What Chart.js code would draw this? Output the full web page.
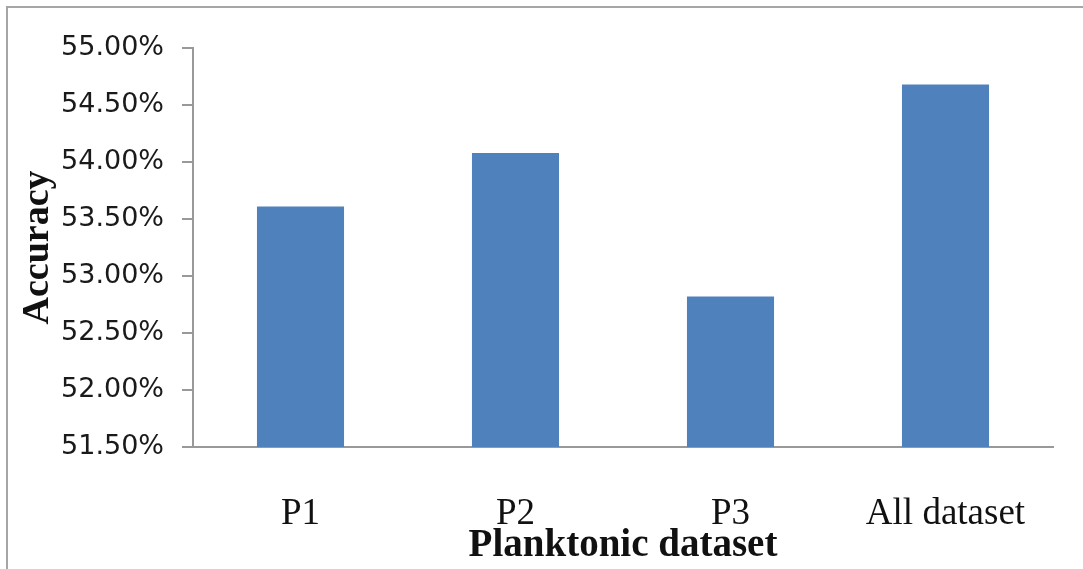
<!DOCTYPE html>
<html>
<head>
<meta charset="utf-8">
<script src="https://cdn.jsdelivr.net/npm/chart.js@4"></script>
<style>
  body { margin: 0; background: #fff; }
  #wrap { position: relative; width: 1083px; height: 569px; }
  #frame {
    position: absolute; left: 6px; top: 6px; width: 1100px; height: 600px;
    border-left: 2px solid #a6a6a6; border-top: 2px solid #a6a6a6;
    pointer-events: none;
  }
</style>
</head>
<body>
<div id="wrap">
  <canvas id="chart" width="1083" height="569"></canvas>
  <div id="frame"></div>
</div>
<script>
// categories and accuracy values (percent)
const categories = ['P1', 'P2', 'P3', 'All dataset'];
const accuracy = [53.61, 54.08, 52.82, 54.68];

// axis range
const yMin = 51.5;
const yMax = 55.0;
const yStep = 0.5;

const ctx = document.getElementById('chart');

let accuracyChart = new Chart(ctx, {
    type: 'bar',
    data: {
        labels: categories,
        datasets: [{
            data: accuracy,
            backgroundColor: '#4f81bd',
            borderWidth: 0,
            barPercentage: 0.405,
            categoryPercentage: 1
        }]
    },
    options: {
        responsive: false,
        animation: false,
        layout: { padding: { top: 48, right: 30, left: 0, bottom: 0 } },
        plugins: { legend: { display: false }, tooltip: { enabled: false } },
        scales: {
            x: {
                grid: { display: false },
                border: { display: true, color: '#999', width: 2 },
                ticks: {
                    color: '#111',
                    padding: 37,
                    maxRotation: 0,
                    font: { family: '"Liberation Serif", "Times New Roman", serif', size: 37 }
                },
                title: {
                    display: true,
                    text: 'Planktonic dataset',
                    color: '#111',
                    padding: { top: 0, bottom: 0 },
                    font: { family: '"Liberation Serif", "Times New Roman", serif', size: 39, weight: 'bold' }
                },
                afterFit: function(scale) { scale.height = 122; }
            },
            y: {
                min: yMin,
                max: yMax,
                grid: { drawOnChartArea: false, color: '#999', lineWidth: 2, tickLength: 11 },
                border: { display: true, color: '#999', width: 2 },
                ticks: {
                    stepSize: yStep,
                    color: '#1a1a1a',
                    padding: 18,
                    font: { family: '"DejaVu Sans", Verdana, sans-serif', size: 27 },
                    callback: function(v) { return v.toFixed(2) + '%'; }
                },
                title: {
                    display: true,
                    text: 'Accuracy',
                    color: '#111',
                    padding: { top: 15, bottom: 0 },
                    font: { family: '"Liberation Serif", "Times New Roman", serif', size: 38, weight: 'bold' }
                },
                afterFit: function(scale) { scale.width = 193; }
            }
        }
    }
});
</script>
</body>
</html>
